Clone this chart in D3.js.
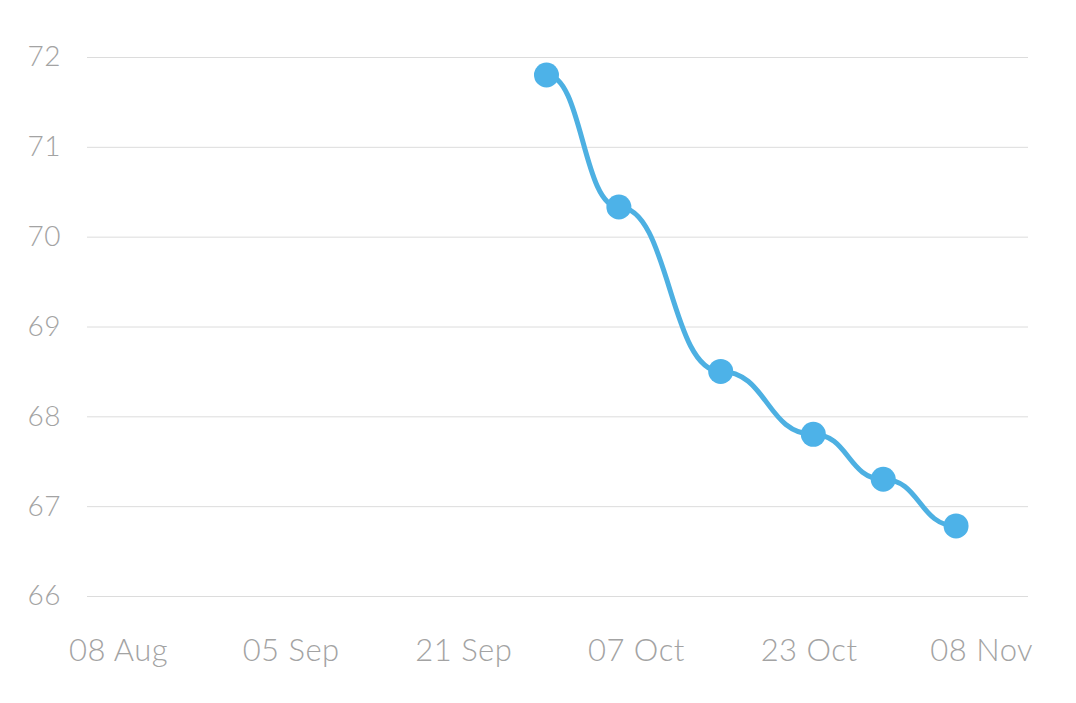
<!DOCTYPE html>
<html><head><meta charset="utf-8">
<script src="https://cdn.jsdelivr.net/npm/d3@7"></script>
<style>
html,body{margin:0;padding:0;background:#fff;}
svg text{font-family:Lato,"Open Sans",sans-serif;font-weight:300;fill:#a3a3a3;}
</style></head>
<body><svg id="chart" width="1076" height="703"></svg>
<script>
// ---- data ----
const pointDates = ["2023-09-28T17:00","2023-10-05T10:00","2023-10-14T20:30","2023-10-23T10:30","2023-10-29T22:00","2023-11-05T16:00"];
const values = [71.8, 70.33, 68.5, 67.8, 67.3, 66.78];
const xTickDates = ["2023-08-20","2023-09-05","2023-09-21","2023-10-07","2023-10-23","2023-11-08"];
const xTickLabels = ["08 Aug","05 Sep","21 Sep","07 Oct","23 Oct","08 Nov"];
const yTicks = [66, 67, 68, 69, 70, 71, 72];

(function () {
const parse = s => new Date(s);
const svg = d3.select("#chart");
const mLeft = 87, mRight = 1028, mTop = 57, mBottom = 596;

const x = d3.scaleTime()
  .domain([parse("2023-08-17T03:00"), parse("2023-11-12T08:00")])
  .range([mLeft, mRight]);
const y = d3.scaleLinear().domain([66, 72]).range([mBottom, mTop]);

// grid + y labels
const yAxis = d3.axisLeft(y).tickValues(yTicks).tickSize(-(mRight-mLeft)).tickPadding(26).tickFormat(d3.format("d"));
const gy = svg.append("g").attr("transform", `translate(${mLeft},0)`).call(yAxis);
gy.select(".domain").remove();
gy.selectAll(".tick line").attr("stroke", "#dcdcdc").attr("stroke-width", 1);
gy.selectAll(".tick text").attr("font-size", 28).attr("fill", "#a3a3a3").attr("letter-spacing", "0.5px");

// x labels
const xAxis = d3.axisBottom(x).tickValues(xTickDates.map(parse))
  .tickFormat((d, i) => xTickLabels[i]).tickSize(0).tickPadding(43);
const gx = svg.append("g").attr("transform", `translate(0,${mBottom})`).call(xAxis);
gx.select(".domain").remove();
gx.selectAll(".tick text").attr("font-size", 31).attr("fill", "#a3a3a3").attr("letter-spacing", "0.5px");

// line
const data = pointDates.map((d, i) => ({date: parse(d), v: values[i]}));
const line = d3.line().x(d => x(d.date)).y(d => y(d.v)).curve(d3.curveBumpX);
svg.append("path").datum(data).attr("d", line)
  .attr("fill", "none").attr("stroke", "#4db0e2").attr("stroke-width", 5);

svg.selectAll("circle.pt").data(data).join("circle").attr("class", "pt")
  .attr("cx", d => x(d.date)).attr("cy", d => y(d.v)).attr("r", 12.5)
  .attr("fill", "#4db2e8");
})();
</script></body></html>
